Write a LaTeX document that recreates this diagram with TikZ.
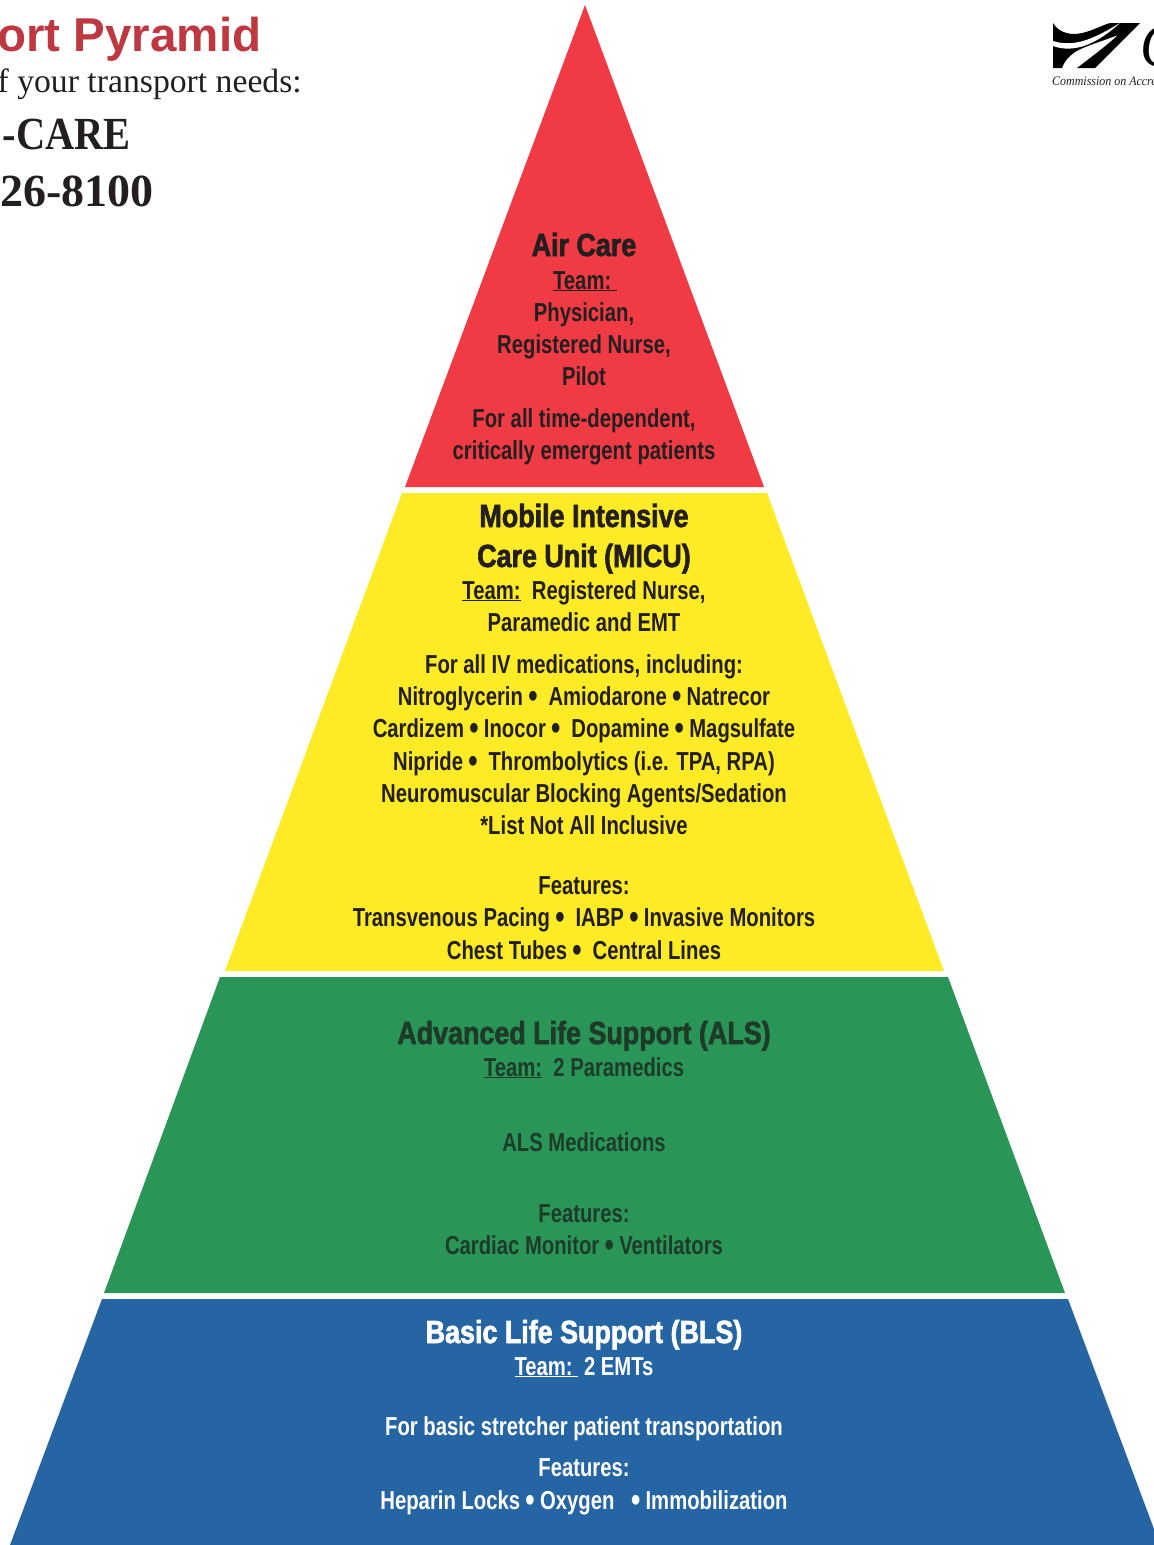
\documentclass[tikz,border=0pt]{standalone}
\usepackage{fontspec}
\setmainfont{Liberation Serif}
\newfontfamily\bodyf[FakeStretch=0.78]{Liberation Sans Bold}
\newfontfamily\headf[FakeStretch=0.84,FakeBold=2]{Liberation Sans Bold}
\newfontfamily\titlef{Liberation Sans Bold}
\newfontfamily\logof[FakeStretch=0.92]{Liberation Serif Italic}
\newfontfamily\caref[FakeStretch=0.88]{Liberation Serif Bold}
\newcommand{\bul}{\hspace{5.3pt}{\fontsize{34}{30}\selectfont\raisebox{-2pt}{•}}\hspace{5.3pt}}
\definecolor{pyrred}{HTML}{F13B44}
\definecolor{pyryellow}{HTML}{FDEB26}
\definecolor{pyrgreen}{HTML}{299657}
\definecolor{pyrblue}{HTML}{2565A3}
\definecolor{ink}{HTML}{231F20}
\definecolor{inkgreen}{HTML}{1E3B2A}
\definecolor{titlered}{HTML}{BE3841}
\tikzset{
 tier/.style={draw=none},
 lbl/.style={anchor=base,inner sep=0pt,font=\bodyf\fontsize{26}{30}\selectfont},
 hd/.style={anchor=base,inner sep=0pt,font=\headf\fontsize{32}{36}\selectfont},
 hdr/.style={anchor=base east,inner sep=0pt}
}
\begin{document}
\begin{tikzpicture}[x=1pt,y=-1pt]
\useasboundingbox (0,0) rectangle (1154,1545);
\clip (0,0) rectangle (1154,1545);
% tiers
\fill[tier,pyrred] (585,5) -- (764,487) -- (405,487) -- cycle;
\fill[tier,pyryellow] (402,493) -- (767,493) -- (944,971) -- (225,971) -- cycle;
\fill[tier,pyrgreen] (220,977) -- (948,977) -- (1065,1293) -- (104,1293) -- cycle;
\fill[tier,pyrblue] (102,1299) -- (1068,1299) -- (1160,1545) -- (10,1545) -- cycle;
% header
\node[hdr,text=titlered,font=\titlef\fontsize{47.5}{52}\selectfont] (title) at (261.5,51) {ort Pyramid};
\node[hdr,text=ink,font=\fontsize{33.7}{36}\selectfont] (sub) at (302,92) {of your transport needs:};
\node[hdr,text=ink,font=\caref\fontsize{46}{50}\selectfont] (care) at (131,149) {-CARE};
\node[hdr,text=ink,font=\bfseries\fontsize{46}{50}\selectfont] (phone) at (154,206) {26-8100};
% logo
\fill[black] (1053,23) .. controls (1058,32) and (1070,36) .. (1082,33) .. controls (1092,31) and (1100,26) .. (1110,23) -- (1140,23)
  -- (1095,68) -- (1077,68) .. controls (1090,58) and (1105,47) .. (1118,35)
  .. controls (1100,42) and (1085,46) .. (1075,52) .. controls (1068,57) and (1064,62) .. (1062,68) -- (1053,68) -- cycle;
\fill[white] (1053,41) .. controls (1075,48) and (1095,38) .. (1120,23) .. controls (1098,43) and (1075,54) .. (1053,46) -- cycle;
\node[anchor=base west,inner sep=0pt,text=black,font=\logof\fontsize{62}{62}\selectfont] (logoC) at (1140,66) {C};
\node[anchor=base west,inner sep=0pt,text=ink,font=\logof\fontsize{13}{15}\selectfont] (logot) at (1052,85.5) {Commission on Accreditation};
% red tier
\begin{scope}[text=ink]
\node[hd] (a1) at (584,256) {Air Care};
\node[lbl] (a2) at (585,289) {\underline{Team:\ }};
\node[lbl] (a3) at (584,321) {Physician,};
\node[lbl] (a4) at (584,353) {Registered Nurse,};
\node[lbl] (a5) at (584,385) {Pilot};
\node[lbl] (a6) at (584,427) {For all time-dependent,};
\node[lbl] (a7) at (584,459) {critically emergent patients};
% yellow tier
\node[hd] (m1) at (584,527) {Mobile Intensive};
\node[hd] (m2) at (584,567) {Care Unit (MICU)};
\node[lbl] (m3) at (584,599) {\underline{Team:}\ \ Registered Nurse,};
\node[lbl] (m4) at (584,631) {Paramedic and EMT};
\node[lbl] (m5) at (584,673) {For all IV medications, including:};
\node[lbl] (m6) at (584,705) {Nitroglycerin\bul\ Amiodarone\bul Natrecor};
\node[lbl] (m7) at (584,737) {Cardizem\bul Inocor\bul\ Dopamine\bul Magsulfate};
\node[lbl] (m8) at (584,770) {Nipride\bul\ Thrombolytics (i.e. TPA, RPA)};
\node[lbl] (m9) at (584,802) {Neuromuscular Blocking Agents/Sedation};
\node[lbl] (m10) at (584,834) {*List Not All Inclusive};
\node[lbl] (m11) at (584,894) {Features:};
\node[lbl] (m12) at (584,926) {Transvenous Pacing\bul\ IABP\bul Invasive Monitors};
\node[lbl] (m13) at (584,959) {Chest Tubes\bul\ Central Lines};
\end{scope}
% green tier
\begin{scope}[text=inkgreen]
\node[hd] (g1) at (584,1044) {Advanced Life Support (ALS)};
\node[lbl] (g2) at (584,1076) {\underline{Team:}\ \ 2 Paramedics};
\node[lbl] (g3) at (584,1151) {ALS Medications};
\node[lbl] (g4) at (584,1222) {Features:};
\node[lbl] (g5) at (584,1254) {Cardiac Monitor\bul Ventilators};
\end{scope}
% blue tier
\begin{scope}[text=white]
\node[hd] (b1) at (584,1343) {Basic Life Support (BLS)};
\node[lbl] (b2) at (584,1375) {\underline{Team:\ }\ 2 EMTs};
\node[lbl] (b3) at (584,1435) {For basic stretcher patient transportation};
\node[lbl] (b4) at (584,1476) {Features:};
\node[lbl] (b5) at (584,1509) {Heparin Locks\bul Oxygen\ \ \bul Immobilization};
\end{scope}
\end{tikzpicture}
\end{document}
